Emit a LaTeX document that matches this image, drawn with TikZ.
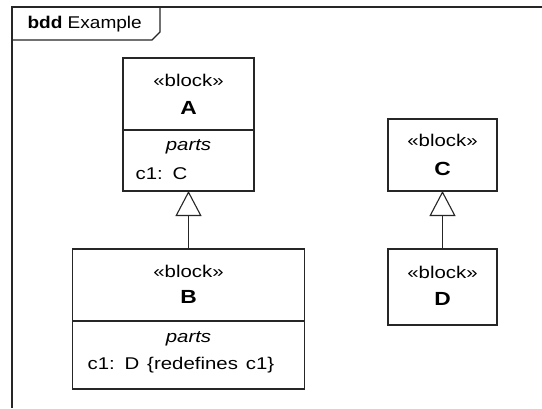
\documentclass[tikz,border=0pt]{standalone}
\usepackage{graphicx}
\usepackage{fontspec}
\setmainfont{Liberation Sans}[WordSpace=1.4]
\newfontfamily\titlefont{Liberation Sans}
\usetikzlibrary{arrows.meta}
\newcommand\hs[1]{\scalebox{1.2}[1]{#1}}
\newcommand\ths[1]{\scalebox{1.12}[1]{#1}}
\begin{document}
\begin{tikzpicture}[x=1pt,y=-1pt,line width=1.1pt,
  lin/.style={draw=black!85},
  blockbox/.style={lin,rectangle,inner sep=0pt,outer sep=0pt},
  txt/.style={inner sep=0pt,font=\fontsize{17}{20}\selectfont},
  nm/.style={inner sep=0pt,font=\fontsize{19}{22}\selectfont\bfseries},
  it/.style={inner sep=0pt,font=\fontsize{17}{20}\selectfont\itshape},
  gen/.style={lin,-{Triangle[open,length=25pt,width=26pt,fill=white]}}]
\useasboundingbox (0,0) rectangle (542,408);
\fill[white] (0,0) rectangle (542,408);
% frame
\draw[lin] (12,408) -- (12,7) -- (542,7);
\draw[lin] (12,40) -- (152,40) -- (160,32) -- (160,7);
\node[anchor=base west,inner sep=0pt,font=\titlefont\fontsize{17}{20}\selectfont] (title) at (27,28) {\ths{\textbf{bdd} Example}};
% block A
\node[blockbox,minimum width=131pt,minimum height=133pt] (A) at (188.5,124.5) {};
\draw[lin] (A.west |- 0,130) -- (A.east |- 0,130);
\node[txt,anchor=base] (Ast) at (188.5,86) {\hs{«block»}};
\node[nm,anchor=base] (An) at (188.5,114) {\hs{A}};
\node[it,anchor=base] (Ap) at (188.5,150) {\hs{parts}};
\node[txt,anchor=base west] (Ac) at (135,179) {\hs{c1: C}};
% block B
\node[blockbox,minimum width=232pt,minimum height=140pt] (B) at (188.5,319) {};
\draw[lin] (B.west |- 0,321) -- (B.east |- 0,321);
\node[txt,anchor=base] (Bst) at (188.5,277) {\hs{«block»}};
\node[nm,anchor=base] (Bn) at (188.5,303) {\hs{B}};
\node[it,anchor=base] (Bp) at (188.5,342) {\hs{parts}};
\node[txt,anchor=base west] (Bc) at (87,369) {\hs{c1: D \{redefines c1\}}};
% block C
\node[blockbox,minimum width=109pt,minimum height=72pt] (C) at (442.5,155) {};
\node[txt,anchor=base] (Cst) at (442.5,146.5) {\hs{«block»}};
\node[nm,anchor=base] (Cn) at (442.5,175) {\hs{C}};
% block D
\node[blockbox,minimum width=109pt,minimum height=76pt] (D) at (442.5,287) {};
\node[txt,anchor=base] (Dst) at (442.5,278) {\hs{«block»}};
\node[nm,anchor=base] (Dn) at (442.5,305) {\hs{D}};
% generalizations
\draw[gen] (B.north) -- (A.south);
\draw[gen] (D.north) -- (C.south);
\end{tikzpicture}
\end{document}
